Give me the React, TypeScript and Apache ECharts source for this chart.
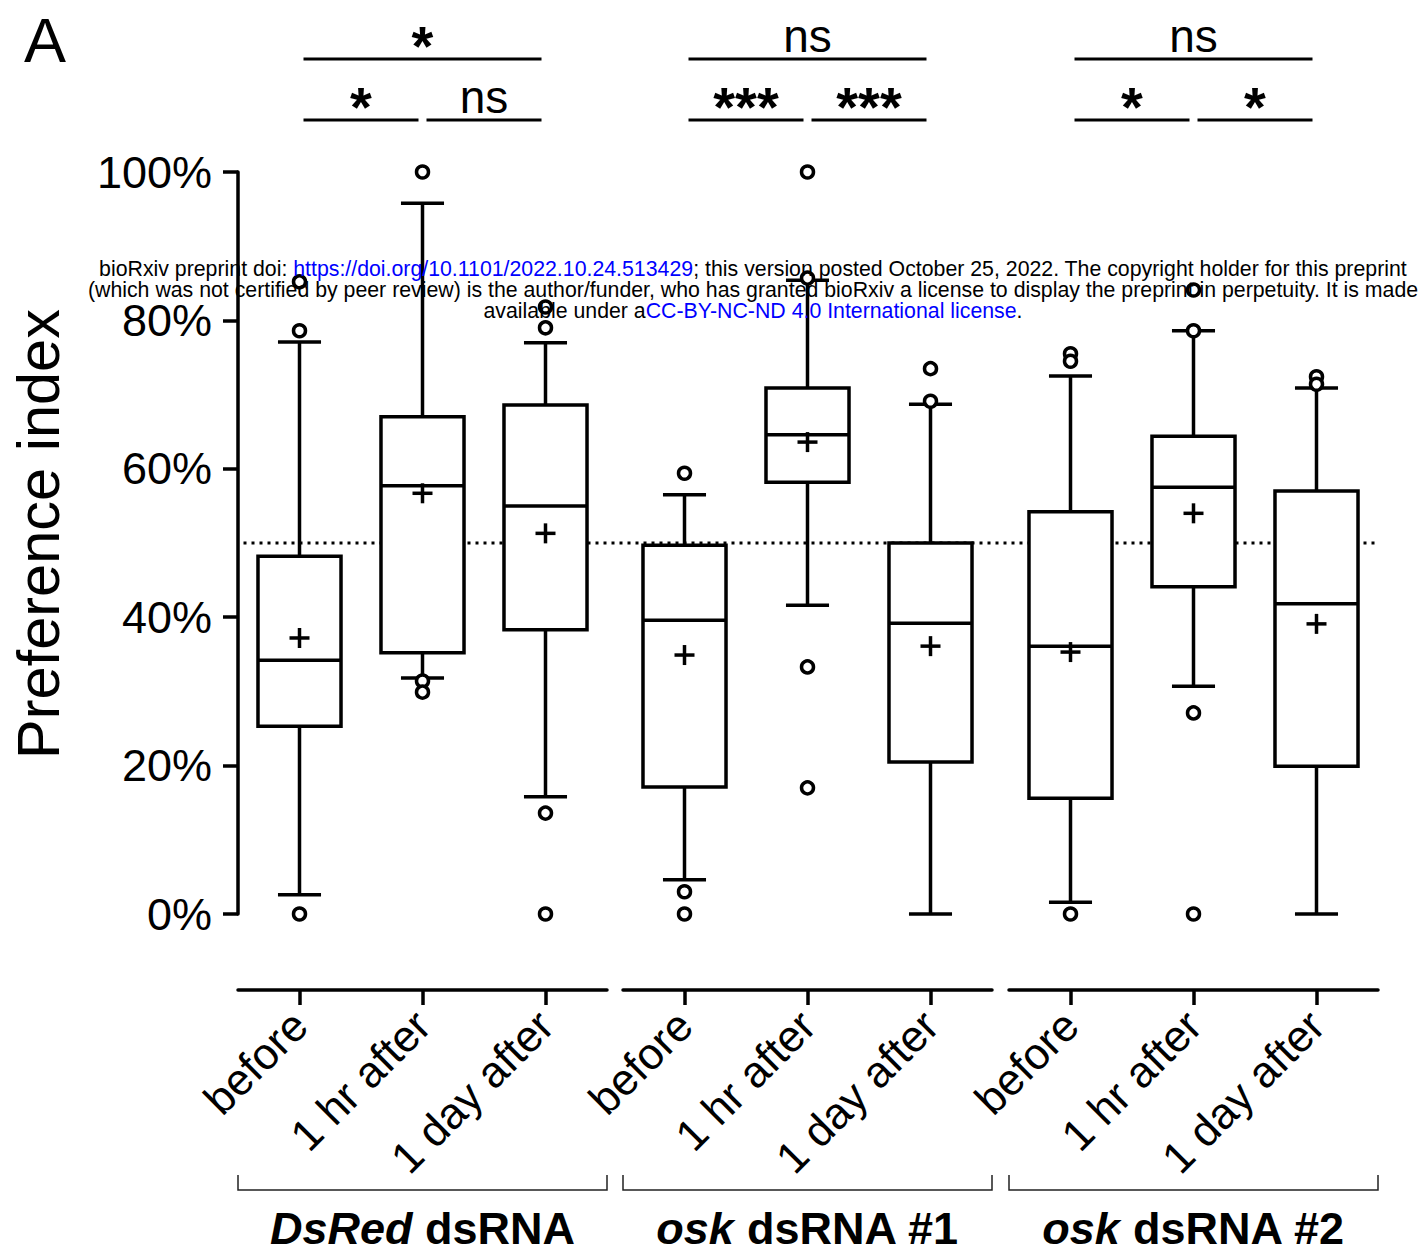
import React, { useEffect, useRef } from "react";
import * as echarts from "echarts";

// ---------- data ----------
const groupNames = ["DsRed dsRNA", "osk dsRNA #1", "osk dsRNA #2"];
const groupItalic = ["DsRed", "osk", "osk"];
const groupRest = [" dsRNA", " dsRNA #1", " dsRNA #2"];
const timepoints = ["before", "1 hr after", "1 day after"];

// per box, in order: DsRed(before, 1hr, 1day), osk#1(...), osk#2(...)
const whiskerLow = [2.6, 31.8, 15.8, 4.6, 41.6, 0, 1.6, 30.7, 0];
const q1 = [25.3, 35.2, 38.3, 17.1, 58.2, 20.5, 15.6, 44.1, 19.9];
const median = [34.2, 57.7, 55.0, 39.6, 64.6, 39.2, 36.1, 57.5, 41.8];
const q3 = [48.2, 67.0, 68.6, 49.7, 70.9, 50.0, 54.2, 64.4, 57.0];
const whiskerHigh = [77.1, 95.8, 77.0, 56.5, 85.4, 68.7, 72.5, 78.6, 70.9];
const means = [37.2, 56.7, 51.3, 34.9, 63.6, 36.1, 35.3, 54.0, 39.1];
const outliers = [
  [85.2, 78.6, 0],
  [100, 31.4, 29.9],
  [81.8, 79.0, 13.6, 0],
  [59.4, 3.0, 0],
  [100, 85.7, 33.3, 17.0],
  [73.5, 69.1],
  [75.5, 74.5, 0],
  [84.1, 78.6, 27.1, 0],
  [72.4, 71.4],
];
const yTicks = [0, 20, 40, 60, 80, 100];
const chanceLevel = 50;

// significance: top (before vs 1 day), lower (before vs 1 hr, 1 hr vs 1 day)
const sigTop = ["*", "ns", "ns"];
const sigLeft = ["*", "***", "*"];
const sigRight = ["ns", "***", "*"];

const FONT = "Arial, 'Liberation Sans', Helvetica, sans-serif";

export default function App() {
  const ref = useRef<HTMLDivElement>(null);

  useEffect(() => {
    if (!ref.current) return;
    const chart = echarts.init(ref.current, null, { renderer: "svg" });

    const gridLefts = [238, 623, 1009];
    const gridWidth = 369;
    const gridTop = 172;
    const gridHeight = 742;

    const grids = gridLefts.map((l) => ({
      left: l,
      top: gridTop,
      width: gridWidth,
      height: gridHeight,
      containLabel: false,
    }));

    const xAxes = gridLefts.map((_, g) => ({
      type: "category",
      gridIndex: g,
      data: timepoints,
      position: "bottom",
      offset: 76,
      axisLine: { show: true, onZero: false, lineStyle: { color: "#000", width: 3.5 } },
      axisTick: { show: true, alignWithLabel: true, length: 15, lineStyle: { color: "#000", width: 3.5 } },
      axisLabel: {
        rotate: 45,
        margin: 28,
        fontSize: 44,
        color: "#000",
        fontFamily: FONT,
        interval: 0,
      },
      splitLine: { show: false },
    }));

    const yAxes = gridLefts.map((_, g) => ({
      type: "value",
      gridIndex: g,
      min: 0,
      max: 100,
      interval: 20,
      show: g === 0,
      axisLine: { show: true, lineStyle: { color: "#000", width: 3.5 } },
      axisTick: { show: true, length: 15, inside: false, lineStyle: { color: "#000", width: 3.5 } },
      axisLabel: {
        margin: 26,
        fontSize: 45,
        color: "#000",
        fontFamily: FONT,
        formatter: (v: number) => (yTicks.includes(v) ? v + "%" : ""),
      },
      splitLine: { show: false },
    }));

    const boxSeries = gridLefts.map((_, g) => ({
      type: "custom",
      xAxisIndex: g,
      yAxisIndex: g,
      z: 3,
      data: [0, 1, 2].map((i) => {
        const k = g * 3 + i;
        return [i, whiskerLow[k], q1[k], median[k], q3[k], whiskerHigh[k], means[k]];
      }),
      renderItem: (params: any, api: any) => {
        const x = api.value(0);
        const band = api.size([1, 0])[0];
        const half = (band * 0.675) / 2;
        const capHalf = band * 0.175;
        const p = (v: number) => api.coord([x, v]);
        const pLow = p(api.value(1));
        const pQ1 = p(api.value(2));
        const pMed = p(api.value(3));
        const pQ3 = p(api.value(4));
        const pHigh = p(api.value(5));
        const pMean = p(api.value(6));
        const cx = pMed[0];
        const st = { stroke: "#000", lineWidth: 3.5, fill: null };
        const plus = 10;
        return {
          type: "group",
          children: [
            { type: "line", shape: { x1: cx, y1: pHigh[1], x2: cx, y2: pQ3[1] }, style: st },
            { type: "line", shape: { x1: cx, y1: pQ1[1], x2: cx, y2: pLow[1] }, style: st },
            { type: "line", shape: { x1: cx - capHalf, y1: pHigh[1], x2: cx + capHalf, y2: pHigh[1] }, style: st },
            { type: "line", shape: { x1: cx - capHalf, y1: pLow[1], x2: cx + capHalf, y2: pLow[1] }, style: st },
            {
              type: "rect",
              shape: { x: cx - half, y: pQ3[1], width: half * 2, height: pQ1[1] - pQ3[1] },
              style: { stroke: "#000", lineWidth: 3.5, fill: "#fff" },
            },
            { type: "line", shape: { x1: cx - half, y1: pMed[1], x2: cx + half, y2: pMed[1] }, style: st },
            { type: "line", shape: { x1: cx - plus, y1: pMean[1], x2: cx + plus, y2: pMean[1] }, style: st },
            { type: "line", shape: { x1: cx, y1: pMean[1] - plus, x2: cx, y2: pMean[1] + plus }, style: st },
          ],
        };
      },
    }));

    const outlierSeries = gridLefts.map((_, g) => ({
      type: "scatter",
      xAxisIndex: g,
      yAxisIndex: g,
      z: 4,
      symbol: "circle",
      symbolSize: 12,
      itemStyle: { color: "#fff", borderColor: "#000", borderWidth: 3.5, opacity: 1 },
      data: [0, 1, 2].flatMap((i) => outliers[g * 3 + i].map((v) => [i, v])),
    }));

    chart.setOption({
      animation: false,
      backgroundColor: "#fff",
      grid: grids,
      xAxis: xAxes,
      yAxis: yAxes,
      series: [...boxSeries, ...outlierSeries],
    });

    // --- annotations computed from the axes ---
    const graphics: any[] = [];
    const px = (g: number, i: number) => chart.convertToPixel({ xAxisIndex: g }, i) as number;
    const yChance = chart.convertToPixel({ yAxisIndex: 0 }, chanceLevel) as number;
    const xStart = px(0, 0) - 56;
    const xEnd = px(2, 2) + 60;
    graphics.push({
      type: "line",
      z: 1,
      shape: { x1: xStart, y1: yChance, x2: xEnd, y2: yChance },
      style: { stroke: "#000", lineWidth: 3, lineDash: [3, 5] },
    });

    const sigNs = { fill: "#000", fontFamily: FONT, fontSize: 46, align: "center", verticalAlign: "middle" };
    const sigStar = {
      fill: "#000",
      fontFamily: FONT,
      fontSize: 56,
      fontWeight: "bold",
      align: "center",
      verticalAlign: "middle",
    };
    const isStar = (s: string) => s.indexOf("*") >= 0;
    const sigText = (x: number, lineY: number, s: string) => ({
      type: "text",
      x,
      y: isStar(s) ? lineY - 14 : lineY - 23,
      style: { ...(isStar(s) ? sigStar : sigNs), text: s },
    });

    for (let g = 0; g < 3; g++) {
      const a = px(g, 0) + 4;
      const b = px(g, 1);
      const c = px(g, 2) - 4;
      const lineSt = { stroke: "#000", lineWidth: 3 };
      graphics.push({ type: "line", shape: { x1: a, y1: 59, x2: c, y2: 59 }, style: lineSt });
      graphics.push({ type: "line", shape: { x1: a, y1: 120, x2: b - 4, y2: 120 }, style: lineSt });
      graphics.push({ type: "line", shape: { x1: b + 4, y1: 120, x2: c, y2: 120 }, style: lineSt });
      graphics.push(sigText((a + c) / 2, 59, sigTop[g]));
      graphics.push(sigText((a + b - 4) / 2, 120, sigLeft[g]));
      graphics.push(sigText((b + 4 + c) / 2, 120, sigRight[g]));

      // group brackets
      const l = gridLefts[g];
      const r = gridLefts[g] + gridWidth;
      graphics.push({
        type: "polyline",
        shape: { points: [[l, 1175], [l, 1190], [r, 1190], [r, 1175]] },
        style: { stroke: "#222", lineWidth: 1.5, fill: null },
      });
      graphics.push({
        type: "text",
        x: (l + r) / 2,
        y: 1228,
        style: {
          text: "{i|" + groupItalic[g] + "}{b|" + groupRest[g] + "}",
          align: "center",
          verticalAlign: "middle",
          rich: {
            i: { fontFamily: FONT, fontSize: 45, fontWeight: "bold", fontStyle: "italic", fill: "#000" },
            b: { fontFamily: FONT, fontSize: 45, fontWeight: "bold", fill: "#000" },
          },
        },
      });
    }

    // panel letter and axis title
    graphics.push({
      type: "text",
      x: 45,
      y: 40,
      style: { text: "A", fontFamily: FONT, fontSize: 63, fill: "#000", align: "center", verticalAlign: "middle" },
    });
    graphics.push({
      type: "text",
      x: 38,
      y: 534,
      rotation: Math.PI / 2,
      style: {
        text: "Preference index",
        fontFamily: FONT,
        fontSize: 59.5,
        fill: "#000",
        align: "center",
        verticalAlign: "middle",
      },
    });

    // bioRxiv watermark
    const wm = { fontFamily: FONT, fontSize: 21.3, fill: "#000" };
    const wmBlue = { fontFamily: FONT, fontSize: 21.3, fill: "#0000ff" };
    graphics.push({
      type: "text",
      x: 753,
      y: 269,
      z: 10,
      style: {
        text:
          "{k|bioRxiv preprint doi: }{u|https://doi.org/10.1101/2022.10.24.513429}{k|; this version posted October 25, 2022. The copyright holder for this preprint}",
        align: "center",
        verticalAlign: "middle",
        rich: { k: wm, u: wmBlue },
      },
    });
    graphics.push({
      type: "text",
      x: 753,
      y: 290,
      z: 10,
      style: {
        text:
          "{k|(which was not certified by peer review) is the author/funder, who has granted bioRxiv a license to display the preprint in perpetuity. It is made}",
        align: "center",
        verticalAlign: "middle",
        rich: { k: wm },
      },
    });
    graphics.push({
      type: "text",
      x: 753,
      y: 311,
      z: 10,
      style: {
        text: "{k|available under a}{u|CC-BY-NC-ND 4.0 International license}{k|.}",
        align: "center",
        verticalAlign: "middle",
        rich: { k: wm, u: wmBlue },
      },
    });

    chart.setOption({ graphic: { elements: graphics } });

    return () => chart.dispose();
  }, []);

  return (
    <div
      ref={ref}
      style={{ position: "absolute", left: 0, top: 0, width: 1422, height: 1256, background: "#fff" }}
    />
  );
}
